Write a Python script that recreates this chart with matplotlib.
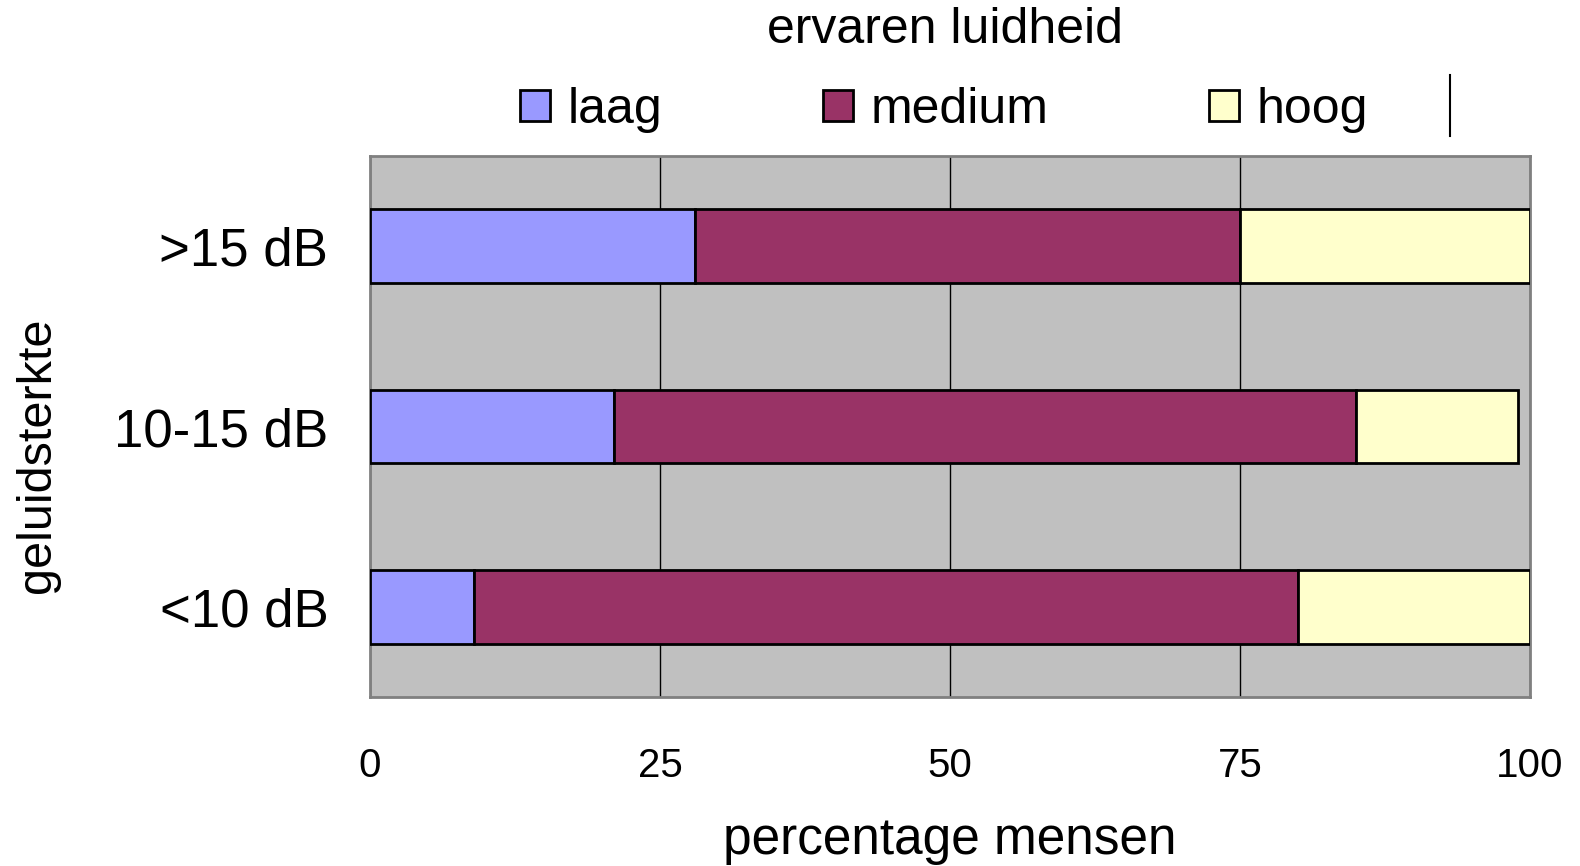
import matplotlib

matplotlib.use("Agg")
import matplotlib.pyplot as plt
from matplotlib.lines import Line2D

plt.rcParams["font.family"] = ["Liberation Sans", "DejaVu Sans"]

categories = ["<10 dB", "10-15 dB", ">15 dB"]
series = ["laag", "medium", "hoog"]
laag = [9, 21, 28]
medium = [71, 64, 47]
hoog = [20, 14, 25]
colors = ["#9999FF", "#993366", "#FFFFCC"]
xticks = [0, 25, 50, 75, 100]

fig = plt.figure(figsize=(15.8, 8.66), dpi=100)
ax = fig.add_axes([370 / 1580, 1 - 697 / 866, 1160 / 1580, 541 / 866])
ax.set_facecolor("#C0C0C0")

y = range(len(categories))
left = [0] * len(categories)
for name, vals, col in zip(series, [laag, medium, hoog], colors):
    ax.barh(y, vals, 0.41, left=left, color=col, edgecolor="black",
            linewidth=2, label=name, zorder=3)
    left = [a + b for a, b in zip(left, vals)]

ax.set_xlim(0, 100)
ax.set_ylim(-0.5, 2.5)
ax.set_xticks(xticks, [str(t) for t in xticks])
ax.set_yticks(list(y), categories)
ax.xaxis.grid(True, color="black", linewidth=1, zorder=0)
ax.tick_params(axis="x", length=0, pad=36, labelsize=29)
ax.tick_params(axis="y", length=0, pad=30, labelsize=38)
for s in ax.spines.values():
    s.set_color("#808080")
    s.set_linewidth(2)

ax.set_xlabel("percentage mensen", fontsize=37, labelpad=22)
fig.text(38 / 1580, 1 - 455 / 866, "geluidsterkte", rotation=90,
         ha="center", va="center", fontsize=35)

fig.text(945 / 1580, 1 - 30 / 866, "ervaren luidheid", ha="center",
         va="center", fontsize=36)
ax.legend(loc="center left", bbox_to_anchor=(520 / 1580, 1 - 110 / 866),
          bbox_transform=fig.transFigure, ncol=3, frameon=False,
          fontsize=36, handlelength=0.6, handleheight=0.6,
          handletextpad=0.36, columnspacing=3.2, borderpad=0,
          borderaxespad=0)
fig.add_artist(Line2D([1450 / 1580] * 2, [1 - 75 / 866, 1 - 136 / 866],
                      transform=fig.transFigure, color="black", linewidth=1.5))

fig.savefig("out.png", dpi=100)
